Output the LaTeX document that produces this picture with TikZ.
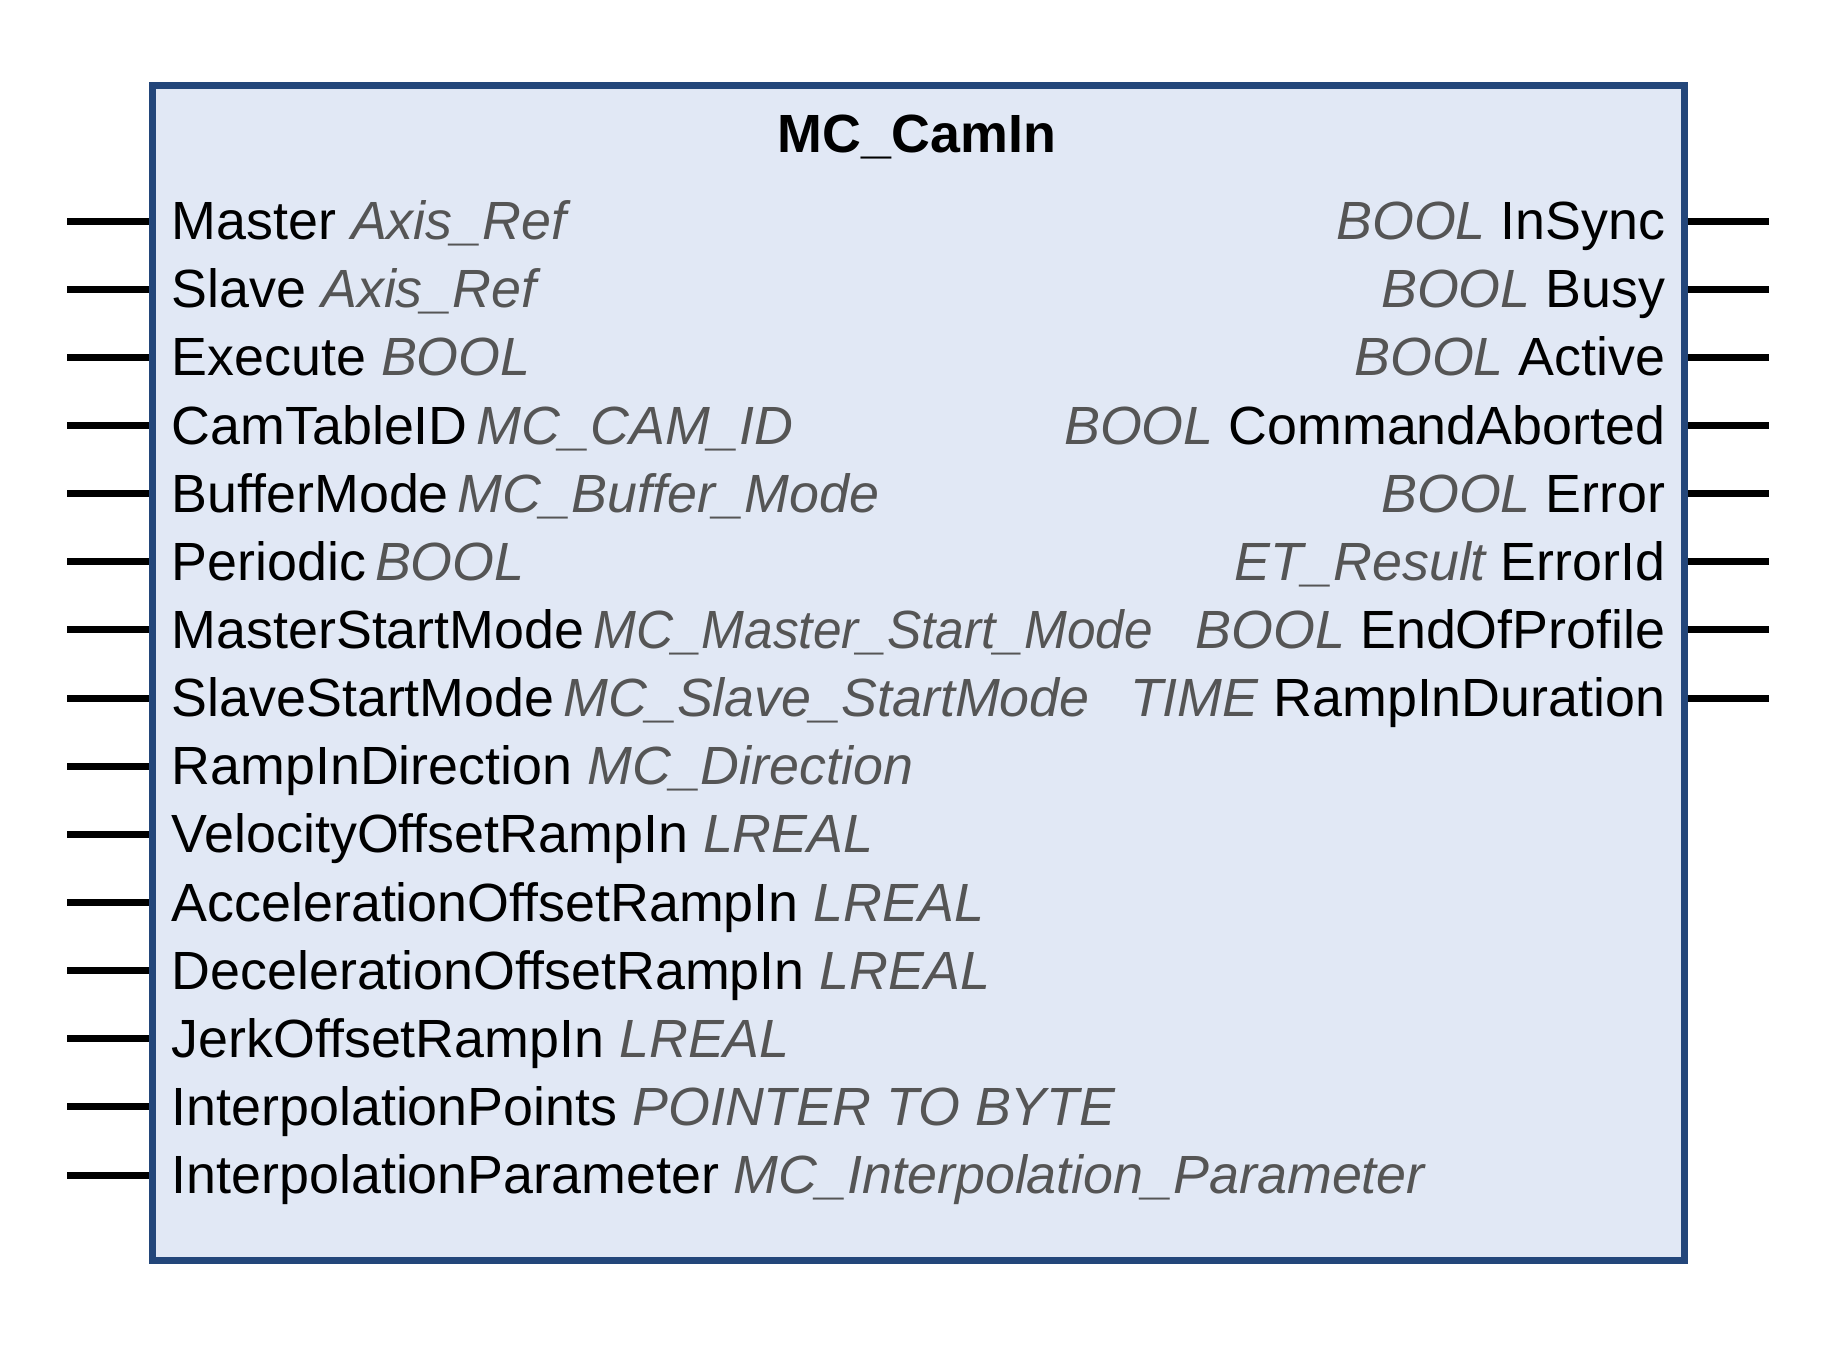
\documentclass[tikz,border=0pt]{standalone}
\usepackage{fontspec}
\setmainfont{Liberation Sans}
\usepackage{xcolor}
\usepackage{graphicx}
\definecolor{FB}{RGB}{35,70,122}
\definecolor{FF}{RGB}{225,232,245}
\definecolor{TG}{RGB}{85,85,85}
\newcommand{\fbfont}{\fontsize{15.3}{18}\selectfont}
\newcommand{\ty}[1]{\textcolor{TG}{\itshape #1}}
\tikzset{
  fbbox/.style={draw=FB, fill=FF, line width=2pt, minimum width=15.315cm, minimum height=11.75cm, inner sep=0pt},
  lbl/.style={inner sep=0pt, text height=10.6pt, text depth=0pt, font=\fbfont},
  inlbl/.style={lbl, anchor=west},
  outlbl/.style={lbl, anchor=east},
  pin/.style={line width=2pt, black}
}

\begin{document}
\begin{tikzpicture}[x=0.01cm, y=-0.01cm]
\useasboundingbox (0,0) rectangle (1836,1350);

\node[fbbox] (fb) at (918.7,672.9) {};
\node[lbl, font=\fbfont\bfseries] (title) at (917,133.5) {MC\_CamIn};

% inputs
\node[inlbl] (iMaster)  at (171,221)    {Master \ty{Axis\_Ref}};
\node[inlbl] (iSlave)   at (171,289.1)  {Slave \ty{Axis\_Ref}};
\node[inlbl] (iExec)    at (171,357.3)  {Execute \ty{BOOL}};
\node[inlbl] (iCamTab)  at (171,425.4)  {CamTableID\,\ty{MC\_CAM\_ID}};
\node[inlbl] (iBufMode) at (171,493.6)  {BufferMode\,\ty{MC\_Buffer\_Mode}};
\node[inlbl] (iPeriod)  at (171,561.7)  {Periodic\,\ty{BOOL}};
\node[inlbl] (iMStart)  at (171,629.8)  {MasterStartMode\,\ty{\scalebox{0.955}[1]{MC\_Master\_Start\_Mode}}};
\node[inlbl] (iSStart)  at (171,698)    {SlaveStartMode\,\ty{MC\_Slave\_StartMode}};
\node[inlbl] (iRampDir) at (171,766.1)  {RampInDirection \ty{MC\_Direction}};
\node[inlbl] (iVelOff)  at (171,834.3)  {VelocityOffsetRampIn \ty{LREAL}};
\node[inlbl] (iAccOff)  at (171,902.4)  {AccelerationOffsetRampIn \ty{LREAL}};
\node[inlbl] (iDecOff)  at (171,970.5)  {DecelerationOffsetRampIn \ty{LREAL}};
\node[inlbl] (iJerkOff) at (171,1038.7) {JerkOffsetRampIn \ty{LREAL}};
\node[inlbl] (iIpPts)   at (171,1106.8) {InterpolationPoints \ty{POINTER TO BYTE}};
\node[inlbl] (iIpPar)   at (171,1175)   {InterpolationParameter \ty{MC\_Interpolation\_Parameter}};

% outputs
\node[outlbl] (oInSync) at (1666,221)   {\ty{BOOL} InSync};
\node[outlbl] (oBusy)   at (1666,289.1) {\ty{BOOL} Busy};
\node[outlbl] (oActive) at (1666,357.3) {\ty{BOOL} Active};
\node[outlbl] (oCmdAb)  at (1666,425.4) {\ty{BOOL} CommandAborted};
\node[outlbl] (oError)  at (1666,493.6) {\ty{BOOL} Error};
\node[outlbl] (oErrId)  at (1666,561.7) {\ty{ET\_Result} ErrorId};
\node[outlbl] (oEoP)    at (1666,629.8) {\ty{BOOL} EndOfProfile};
\node[outlbl] (oRampDu) at (1666,698)   {\ty{TIME} RampInDuration};

% pins
\foreach \p in {iMaster,iSlave,iExec,iCamTab,iBufMode,iPeriod,iMStart,iSStart,
                iRampDir,iVelOff,iAccOff,iDecOff,iJerkOff,iIpPts,iIpPar}{
  \coordinate (\p-end) at ([xshift=-0.815cm]\p.west -| fb.west);
  \draw[pin] (\p-end) -- (\p.west -| fb.west);
}
\foreach \p in {oInSync,oBusy,oActive,oCmdAb,oError,oErrId,oEoP,oRampDu}{
  \coordinate (\p-end) at ([xshift=0.81cm]\p.east -| fb.east);
  \draw[pin] (\p.east -| fb.east) -- (\p-end);
}
\end{tikzpicture}
\end{document}
